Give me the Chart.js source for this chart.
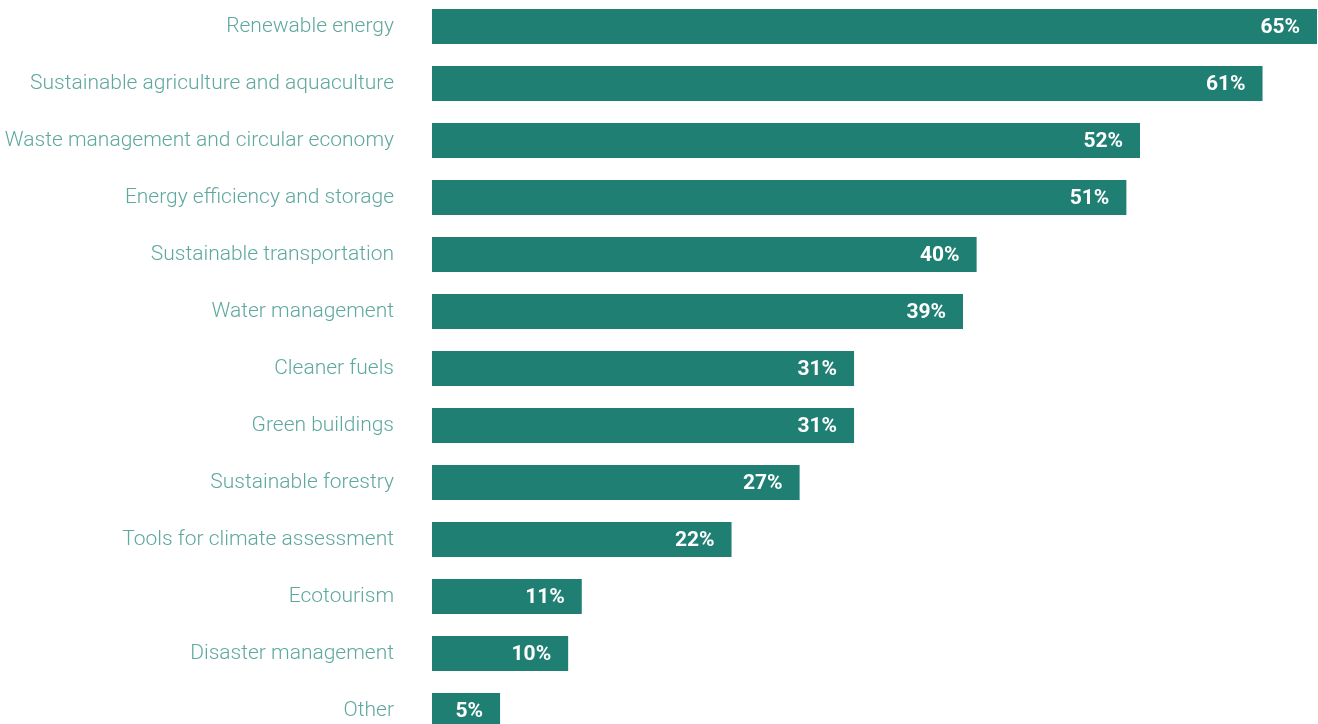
<!DOCTYPE html>
<html>
<head>
<meta charset="utf-8">
<script src="https://cdn.jsdelivr.net/npm/chart.js@4/dist/chart.umd.min.js"></script>
<style>
    html, body { margin: 0; padding: 0; background: #fff; overflow: hidden; }
    #sectorChart { position: absolute; left: 0; top: -2px; }
</style>
</head>
<body>
<canvas id="sectorChart" width="1318" height="741"></canvas>
<script>
const sectors = [
    'Renewable energy',
    'Sustainable agriculture and aquaculture',
    'Waste management and circular economy',
    'Energy efficiency and storage',
    'Sustainable transportation',
    'Water management',
    'Cleaner fuels',
    'Green buildings',
    'Sustainable forestry',
    'Tools for climate assessment',
    'Ecotourism',
    'Disaster management',
    'Other'
];
const shares = [65, 61, 52, 51, 40, 39, 31, 31, 27, 22, 11, 10, 5];

const barColor = '#1f7f73';
const labelColor = '#5ea89e';

// white percentage text inside the right end of each bar
const valueLabels = {
    id: 'valueLabels',
    afterDatasetsDraw(chart) {
        const ctx = chart.ctx;
        const meta = chart.getDatasetMeta(0);
        ctx.save();
        ctx.font = '700 21px Roboto';
        ctx.fillStyle = '#ffffff';
        ctx.textAlign = 'right';
        ctx.textBaseline = 'middle';
        meta.data.forEach((bar, i) => {
            ctx.fillText(shares[i] + '%', bar.x - 17, bar.y + 1);
        });
        ctx.restore();
    }
};

document.addEventListener('DOMContentLoaded', function() {
    const ctx = document.getElementById('sectorChart').getContext('2d');
    new Chart(ctx, {
        type: 'bar',
        data: {
            labels: sectors,
            datasets: [{
                data: shares,
                backgroundColor: barColor,
                borderWidth: 0,
                categoryPercentage: 1,
                barPercentage: 0.61
            }]
        },
        options: {
            indexAxis: 'y',
            responsive: false,
            animation: false,
            layout: { autoPadding: false, padding: { top: 0, bottom: 0, left: 0, right: 1 } },
            plugins: {
                legend: { display: false },
                tooltip: { enabled: false }
            },
            scales: {
                x: { display: false, min: 0, max: 65 },
                y: {
                    grid: { display: false },
                    border: { display: false },
                    ticks: {
                        color: labelColor,
                        font: { family: 'Roboto', size: 21, weight: '300' },
                        padding: 30,
                        autoSkip: false
                    },
                    afterFit(scale) {
                        // fixed label column, no extra room above/below the rows
                        scale.width = 432;
                        scale.paddingTop = 0;
                        scale.paddingBottom = 0;
                    }
                }
            }
        },
        plugins: [valueLabels]
    });
});
</script>
</body>
</html>
